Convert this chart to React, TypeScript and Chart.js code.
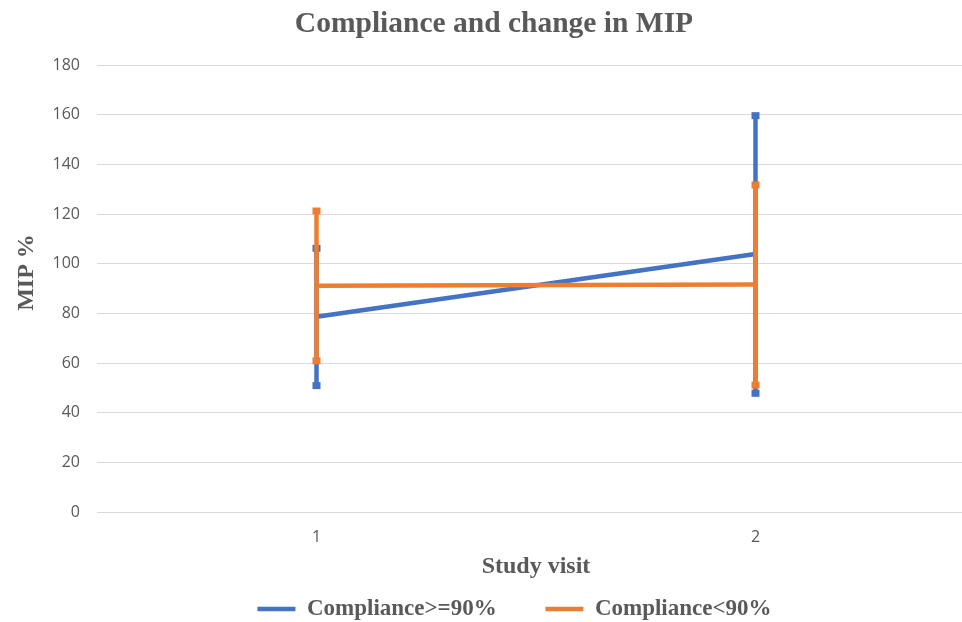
import React, { useEffect, useRef } from 'react';
import { Chart, registerables } from 'chart.js';

Chart.register(...registerables);

// ---- data ----
const visits = ['1', '2'];
const highCompliance = [78.6, 103.9];
const highUpper = [106.2, 159.6];
const highLower = [50.9, 47.8];
const lowCompliance = [91.1, 91.6];
const lowUpper = [121.2, 131.7];
const lowLower = [60.9, 51.1];
const yMin = 0;
const yMax = 180;
const yStep = 20;

const BLUE = '#4472C4';
const ORANGE = '#ED7D31';
const GREY = '#595959';
const GRID = '#D9D9D9';
const SERIF = '"Liberation Serif", "Times New Roman", serif';
const SANS = '"Open Sans", sans-serif';

const LEGEND_FONT = 23;
const LEGEND_PAD = 48.7;
const LEGEND_H = 40;
const LEGEND_DX = 27;
const LEGEND_CENTER_Y = 609;
const TITLE_DX = 6.5;
const Y_TITLE_DY = -16;

const errorBarPlugin = {
  id: 'errorBars',
  afterDatasetDraw(chart: any, args: any) {
    const ds: any = chart.data.datasets[args.index];
    if (!ds.errorUpper) return;
    const ctx = chart.ctx;
    const yScale = chart.scales.y;
    ctx.save();
    ctx.strokeStyle = ds.borderColor;
    ctx.fillStyle = ds.borderColor;
    ctx.lineWidth = 4.5;
    ctx.lineCap = 'butt';
    args.meta.data.forEach((pt: any, i: number) => {
      const x = pt.x;
      const yt = yScale.getPixelForValue(ds.errorUpper[i]);
      const yb = yScale.getPixelForValue(ds.errorLower[i]);
      ctx.beginPath();
      ctx.moveTo(x, yt);
      ctx.lineTo(x, yb);
      ctx.stroke();
      ctx.fillRect(x - 4, yt - 3.5, 8, 7);
      ctx.fillRect(x - 4, yb - 3.5, 8, 7);
    });
    ctx.restore();
  },
};

const layoutTweak = {
  id: 'layoutTweak',
  beforeLayout(chart: any) {
    const lg = chart.legend;
    if (lg && !lg.__patched) {
      const origFit = Object.getPrototypeOf(lg).fit;
      lg.fit = function () {
        origFit.call(this);
        this.height = LEGEND_H;
      };
      lg.__patched = true;
    }
  },
  afterLayout(chart: any) {
    const lg = chart.legend;
    if (lg) {
      lg.left += LEGEND_DX;
      lg.right += LEGEND_DX;
      lg.top = LEGEND_CENTER_Y - LEGEND_PAD - LEGEND_FONT / 2;
      lg.bottom = chart.height;
    }
    const tb = chart.titleBlock;
    if (tb) {
      tb.left += TITLE_DX;
      tb.right += TITLE_DX;
    }
    const ys = chart.scales.y;
    if (ys) {
      // only moves where the rotated axis title is centred
      ys.top += Y_TITLE_DY;
      ys.bottom += Y_TITLE_DY;
    }
  },
};

export default function App() {
  const ref = useRef<HTMLCanvasElement | null>(null);

  useEffect(() => {
    document.body.style.margin = '0';
    const canvas = ref.current;
    if (!canvas) return;
    const chart = new Chart(canvas, {
      type: 'line',
      data: {
        labels: visits,
        datasets: [
          {
            label: 'Compliance<90%',
            data: lowCompliance,
            borderColor: ORANGE,
            backgroundColor: ORANGE,
            borderWidth: 4.5,
            pointRadius: 0,
            tension: 0,
            errorUpper: lowUpper,
            errorLower: lowLower,
          } as any,
          {
            label: 'Compliance>=90%',
            data: highCompliance,
            borderColor: BLUE,
            backgroundColor: BLUE,
            borderWidth: 4.5,
            pointRadius: 0,
            tension: 0,
            errorUpper: highUpper,
            errorLower: highLower,
          } as any,
        ],
      },
      options: {
        animation: false,
        responsive: true,
        maintainAspectRatio: false,
        layout: { padding: { left: 0, right: 13, top: 0, bottom: 0 } },
        plugins: {
          title: {
            display: true,
            text: 'Compliance and change in MIP',
            color: GREY,
            font: { family: SERIF, size: 29.5, weight: 'bold' },
            padding: { top: 6.5, bottom: 23.1 },
          },
          legend: {
            position: 'bottom',
            reverse: true,
            labels: {
              usePointStyle: true,
              pointStyle: 'line',
              pointStyleWidth: 38,
              padding: LEGEND_PAD,
              color: GREY,
              font: { family: SERIF, size: LEGEND_FONT, weight: 'bold' },
            },
          },
          tooltip: { enabled: false },
        },
        scales: {
          x: {
            type: 'category',
            offset: true,
            grid: { display: false, drawTicks: false },
            border: { display: false },
            ticks: {
              color: GREY,
              padding: 16,
              font: { family: SANS, size: 16 },
            },
            title: {
              display: true,
              text: 'Study visit',
              color: GREY,
              font: { family: SERIF, size: 24, weight: 'bold' },
              padding: { top: 0, bottom: 0.6 },
            },
            afterFit(scale: any) {
              scale.height = 70;
            },
          },
          y: {
            min: yMin,
            max: yMax,
            grid: { color: GRID, lineWidth: 1, drawTicks: false },
            border: { display: false },
            ticks: {
              stepSize: yStep,
              color: GREY,
              padding: 17,
              font: { family: SANS, size: 16 },
            },
            title: {
              display: true,
              text: 'MIP %',
              color: GREY,
              font: { family: SERIF, size: 24, weight: 'bold' },
              padding: { top: 12.6, bottom: 0 },
            },
            afterFit(scale: any) {
              scale.width = 97;
            },
          },
        },
      },
      plugins: [errorBarPlugin, layoutTweak],
    });
    return () => chart.destroy();
  }, []);

  return (
    <div
      style={{
        position: 'fixed',
        left: 0,
        top: 0,
        width: 962,
        height: 622,
        overflow: 'hidden',
        background: '#fff',
      }}
    >
      <div style={{ position: 'relative', width: 988, height: 622 }}>
        <canvas ref={ref} />
      </div>
    </div>
  );
}
